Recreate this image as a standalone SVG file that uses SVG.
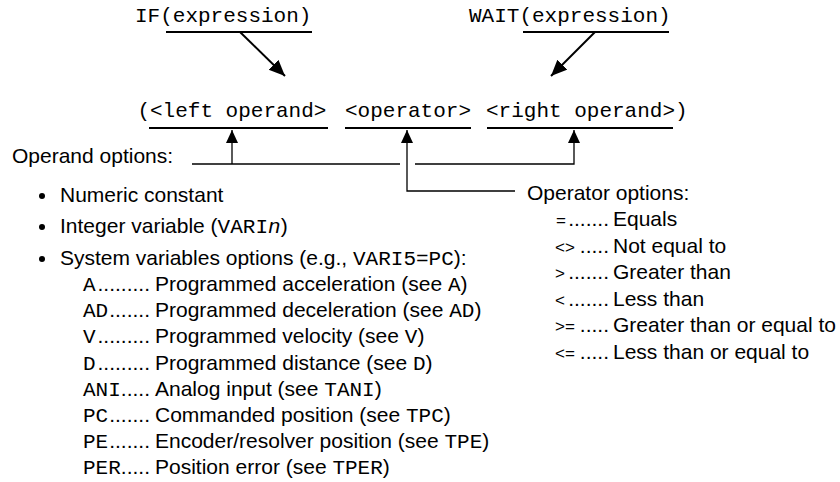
<svg xmlns="http://www.w3.org/2000/svg" width="840" height="482" viewBox="0 0 840 482">
<defs>
<style>
.mono{font-family:"Liberation Mono","Courier New",monospace;font-size:21px;fill:#000}
.sans{font-family:"Liberation Sans",Arial,sans-serif;font-size:21px;fill:#000}
.m{font-family:"Liberation Mono","Courier New",monospace}
.sym{font-family:"Liberation Sans",Arial,sans-serif;font-size:17px;fill:#000}
.ul{stroke:#000;stroke-width:2}
.conn{stroke:#000;stroke-width:1.3;fill:none}
.diag{stroke:#000;stroke-width:2;fill:none}
.dots{text-anchor:end}
</style>
<marker id="bigHead" markerUnits="userSpaceOnUse" viewBox="0 0 17 15" markerWidth="17" markerHeight="15" refX="16" refY="7" orient="auto"><path d="M0,0 L16,7 L0,14 z" fill="#000"/></marker>
<marker id="smallHead" markerUnits="userSpaceOnUse" viewBox="0 0 13 13" markerWidth="13" markerHeight="13" refX="13" refY="6" orient="auto"><path d="M0,0 L13,6 L0,12 z" fill="#000"/></marker>
</defs>
<rect width="840" height="482" fill="#fff"/>

<g id="if-expression">
<text class="mono" x="135" y="22">IF(expression)</text>
<line class="ul" x1="166" y1="32" x2="312" y2="32"/>
</g>

<g id="wait-expression">
<text class="mono" x="469" y="22">WAIT(expression)</text>
<line class="ul" x1="523" y1="32" x2="669" y2="32"/>
</g>

<g id="expression">
<text class="mono" x="137.4" y="117">(</text>
<text class="mono" x="150" y="117">&lt;left operand&gt;</text>
<text class="mono" x="345" y="117">&lt;operator&gt;</text>
<text class="mono" x="486" y="117">&lt;right operand&gt;</text>
<text class="mono" x="675" y="117">)</text>
<line class="ul" x1="149" y1="128" x2="328" y2="128"/>
<line class="ul" x1="345" y1="128" x2="471" y2="128"/>
<line class="ul" x1="487" y1="128" x2="673" y2="128"/>
</g>

<g id="operand-options">
<text class="sans" x="12" y="163">Operand options:</text>
<circle cx="42" cy="196" r="3"/>
<text class="sans" x="60" y="202">Numeric constant</text>
<circle cx="42" cy="227" r="3"/>
<text class="sans" x="60" y="233">Integer variable (<tspan class="m">VARI<tspan font-style="italic">n</tspan></tspan>)</text>
<circle cx="42" cy="259" r="3"/>
<text class="sans" x="60" y="265">System variables options (e.g., <tspan class="m">VARI5=PC</tspan>):</text>

<text class="mono" x="83" y="291">A</text><text class="sans dots" x="150" y="291">.........</text>
<text class="sans" x="155" y="291">Programmed acceleration (see <tspan class="m">A</tspan>)</text>

<text class="mono" x="83" y="317.2">AD</text><text class="sans dots" x="150" y="317.2">.......</text>
<text class="sans" x="155" y="317.2">Programmed deceleration (see <tspan class="m">AD</tspan>)</text>

<text class="mono" x="83" y="343.4">V</text><text class="sans dots" x="150" y="343.4">.........</text>
<text class="sans" x="155" y="343.4">Programmed velocity (see <tspan class="m">V</tspan>)</text>

<text class="mono" x="83" y="369.6">D</text><text class="sans dots" x="150" y="369.6">.........</text>
<text class="sans" x="155" y="369.6">Programmed distance (see <tspan class="m">D</tspan>)</text>

<text class="mono" x="83" y="395.8">ANI</text><text class="sans dots" x="150" y="395.8">.....</text>
<text class="sans" x="155" y="395.8">Analog input (see <tspan class="m">TANI</tspan>)</text>

<text class="mono" x="83" y="422">PC</text><text class="sans dots" x="150" y="422">.......</text>
<text class="sans" x="155" y="422">Commanded position (see <tspan class="m">TPC</tspan>)</text>

<text class="mono" x="83" y="448.2">PE</text><text class="sans dots" x="150" y="448.2">.......</text>
<text class="sans" x="155" y="448.2">Encoder/resolver position (see <tspan class="m">TPE</tspan>)</text>

<text class="mono" x="83" y="474.4">PER</text><text class="sans dots" x="150" y="474.4">.....</text>
<text class="sans" x="155" y="474.4">Position error (see <tspan class="m">TPER</tspan>)</text>
</g>

<g id="operator-options">
<text class="sans" x="527" y="200">Operator options:</text>

<text class="sym" x="556" y="226">=</text><text class="sans dots" x="609" y="226">.......</text>
<text class="sans" x="613" y="226">Equals</text>

<text class="sym" x="555" y="252.5">&lt;&gt;</text><text class="sans dots" x="609" y="252.5">.....</text>
<text class="sans" x="613" y="252.5">Not equal to</text>

<text class="sym" x="555" y="279">&gt;</text><text class="sans dots" x="609" y="279">.......</text>
<text class="sans" x="613" y="279">Greater than</text>

<text class="sym" x="555" y="305.5">&lt;</text><text class="sans dots" x="609" y="305.5">.......</text>
<text class="sans" x="613" y="305.5">Less than</text>

<text class="sym" x="555" y="332">&gt;=</text><text class="sans dots" x="609" y="332">.....</text>
<text class="sans" x="613" y="332">Greater than or equal to</text>

<text class="sym" x="555" y="358.5">&lt;=</text><text class="sans dots" x="609" y="358.5">.....</text>
<text class="sans" x="613" y="358.5">Less than or equal to</text>
</g>

<g id="connectors">
<line class="diag" x1="240" y1="32" x2="285" y2="76" marker-end="url(#bigHead)"/>
<line class="diag" x1="595" y1="32" x2="551" y2="76" marker-end="url(#bigHead)"/>
<line class="conn" x1="192" y1="164" x2="400" y2="164"/>
<line class="conn" x1="232" y1="164" x2="232" y2="130" marker-end="url(#smallHead)"/>
<polyline class="conn" points="415,164 574,164 574,130" marker-end="url(#smallHead)"/>
<polyline class="conn" points="515,191 407,191 407,130" marker-end="url(#smallHead)"/>
</g>
</svg>
